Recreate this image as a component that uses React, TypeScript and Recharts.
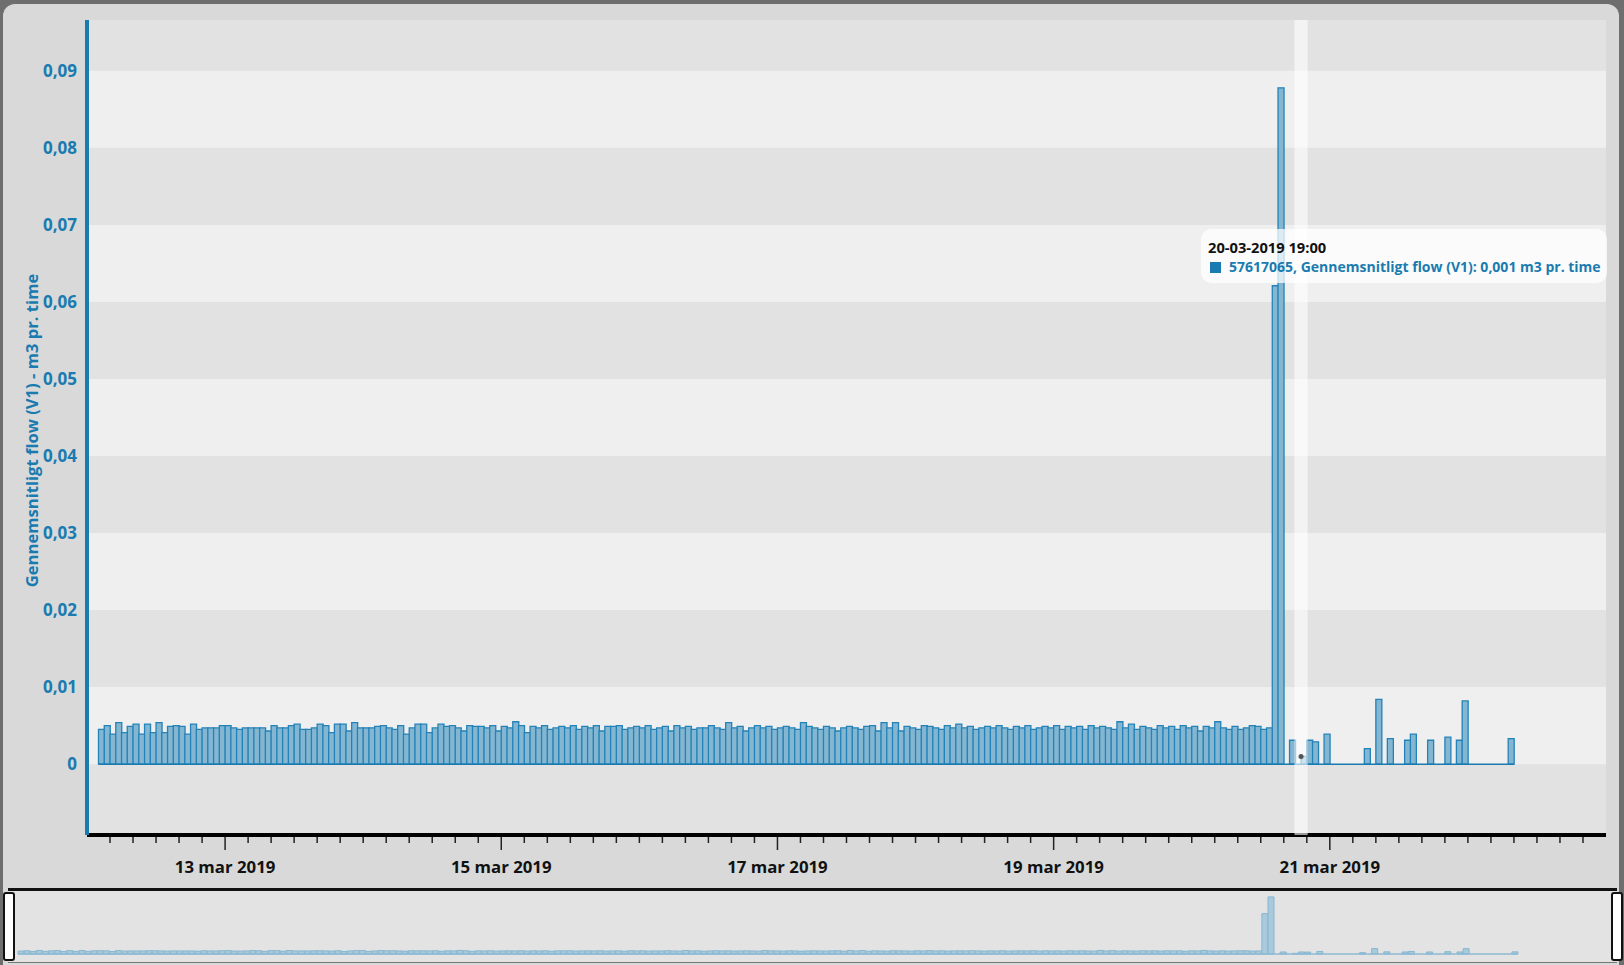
import React from "react";
import { Bar, BarChart, ReferenceArea, ReferenceDot, ReferenceLine, XAxis, YAxis } from "recharts";

// hourly values, first bar = 12 mar 2019 02:00 (hour 2 counted from 12 mar 00:00)
const startHour = 2;
const flowValues: number[] = [
  0.0045, 0.0050, 0.0039, 0.0054, 0.0041, 0.0049, 0.0052, 0.0039, 0.0052, 0.0041,
  0.0054, 0.0041, 0.0049, 0.0050, 0.0049, 0.0039, 0.0052, 0.0045, 0.0047, 0.0047,
  0.0047, 0.0050, 0.0050, 0.0047, 0.0045, 0.0047, 0.0047, 0.0047, 0.0047, 0.0043,
  0.0050, 0.0047, 0.0047, 0.0050, 0.0052, 0.0045, 0.0045, 0.0047, 0.0052, 0.0050,
  0.0041, 0.0052, 0.0052, 0.0043, 0.0054, 0.0047, 0.0047, 0.0047, 0.0049, 0.0050,
  0.0047, 0.0045, 0.0050, 0.0039, 0.0047, 0.0052, 0.0052, 0.0041, 0.0047, 0.0052,
  0.0049, 0.0050, 0.0047, 0.0043, 0.0050, 0.0049, 0.0049,
  0.0047, 0.0050, 0.0043, 0.0049, 0.0047, 0.0055, 0.0050, 0.0041, 0.0049, 0.0047,
  0.0050, 0.0045, 0.0047, 0.0049, 0.0047, 0.0050, 0.0045, 0.0049, 0.0047, 0.0050,
  0.0043, 0.0049, 0.0049, 0.0050, 0.0045, 0.0047, 0.0049, 0.0047, 0.0050, 0.0045,
  0.0047, 0.0049, 0.0043, 0.0050, 0.0047, 0.0049, 0.0045, 0.0047, 0.0047, 0.0050,
  0.0047, 0.0045, 0.0054, 0.0047, 0.0049, 0.0043, 0.0047, 0.0050, 0.0047, 0.0049,
  0.0045, 0.0047, 0.0049, 0.0047, 0.0045, 0.0054, 0.0049, 0.0047, 0.0045, 0.0049,
  0.0047, 0.0043, 0.0047, 0.0049, 0.0047, 0.0045, 0.0049, 0.0050, 0.0043, 0.0054,
  0.0047, 0.0054, 0.0043, 0.0049, 0.0047, 0.0045, 0.0050, 0.0049, 0.0047, 0.0045,
  0.0050, 0.0047, 0.0052, 0.0047, 0.0049, 0.0045, 0.0047, 0.0049, 0.0047, 0.0050,
  0.0047, 0.0045, 0.0049, 0.0047, 0.0050, 0.0045, 0.0047, 0.0049, 0.0047, 0.0050,
  0.0045, 0.0049, 0.0047, 0.0049, 0.0045, 0.0050, 0.0047, 0.0049, 0.0047, 0.0045,
  0.0055, 0.0047, 0.0052, 0.0045, 0.0049, 0.0047, 0.0045, 0.0050, 0.0047, 0.0049,
  0.0045, 0.0050, 0.0047, 0.0049, 0.0043, 0.0049, 0.0047, 0.0055, 0.0047, 0.0045,
  0.0049, 0.0045, 0.0047, 0.0050, 0.0049, 0.0045, 0.0047,
  // 20 mar 14:00 ->
  0.0621, 0.0878, 0, 0.0031, 0, 0.0010, 0.0031, 0.0029, 0, 0.0039,
  // 21 mar
  0, 0, 0, 0, 0, 0, 0.0020, 0, 0.0084, 0,
  0.0033, 0, 0, 0.0031, 0.0039, 0, 0, 0.0031, 0, 0,
  0.0035, 0, 0.0031, 0.0082,
  // 22 mar
  0, 0, 0, 0, 0, 0, 0, 0.0033,
];

const yTicks = [0, 0.01, 0.02, 0.03, 0.04, 0.05, 0.06, 0.07, 0.08, 0.09];
const lightBands = [[0, 0.01], [0.02, 0.03], [0.04, 0.05], [0.06, 0.07], [0.08, 0.09]];
const majorTickHours = [24, 72, 120, 168, 216];
const majorTickLabels = ["13 mar 2019", "15 mar 2019", "17 mar 2019", "19 mar 2019", "21 mar 2019"];
const xTicks = Array.from({ length: 65 }, (_, i) => 4 + i * 4);

const hoverHour = 211; // 20-03-2019 19:00
const hoverLabel = "20-03-2019 19:00";
const seriesName = "57617065, Gennemsnitligt flow (V1)";
const unit = "m3 pr. time";

const hours = flowValues.map((_, i) => startHour + i);
const data = flowValues.map((v, i) => ({ t: hours[i] + 0.5, flow: v }));
const hoverValue = flowValues[hoverHour - startHour];
const lastHour = hours[hours.length - 1] + 1;

const BLUE = "#1a7bb0";
const FONT = "'Open Sans', sans-serif";
const Y_MIN = -0.0092;
const Y_MAX = 0.0966;

const fmt = (v: number) => (v === 0 ? "0" : v.toFixed(2).replace(".", ","));

const XTick = (props: any) => {
  const { x, y, payload } = props;
  const idx = majorTickHours.indexOf(payload.value);
  const major = idx >= 0;
  return (
    <g>
      <line x1={x} x2={x} y1={y + 2} y2={y + (major ? 15 : 8)} stroke="#222" strokeWidth={1.5} />
      {major && (
        <text x={x} y={y + 38} textAnchor="middle" fontFamily={FONT} fontWeight={700} fontSize={16.8} fill="#111">
          {majorTickLabels[idx]}
        </text>
      )}
    </g>
  );
};

const YTitle = (props: any) => {
  const vb = props.viewBox || { x: 0, y: 20, width: 87, height: 815 };
  const cx = vb.x + 31;
  const cy = vb.y + vb.height / 2 + 3;
  return (
    <text
      x={cx}
      y={cy}
      transform={`rotate(-90 ${cx} ${cy})`}
      textAnchor="middle"
      dominantBaseline="central"
      fontFamily={FONT}
      fontWeight={700}
      fontSize={16.6}
      fill={BLUE}
    >
      Gennemsnitligt flow (V1) - m3 pr. time
    </text>
  );
};

export default function App() {
  return (
    <div style={{ position: "absolute", left: 0, top: 0, width: 1624, height: 965, background: "#6e6e6e", overflow: "hidden" }}>
      <div style={{ position: "absolute", left: 3, top: 4, width: 1616, height: 980, background: "#d9d9d9", borderRadius: 12 }} />

      <div style={{ position: "absolute", left: 0, top: 0 }}>
        <BarChart width={1624} height={880} data={data} margin={{ top: 20, right: 18, left: 0, bottom: 0 }} barCategoryGap={0}>
          <XAxis
            type="number"
            dataKey="t"
            domain={[0, 264]}
            ticks={xTicks}
            interval={0}
            tick={<XTick />}
            tickSize={0}
            tickMargin={0}
            tickLine={false}
            axisLine={{ stroke: "#000", strokeWidth: 4 }}
            height={45}
          />
          <YAxis
            type="number"
            domain={[Y_MIN, Y_MAX]}
            allowDataOverflow
            ticks={yTicks}
            tickFormatter={fmt}
            width={87}
            tickSize={0}
            tickMargin={10}
            tickLine={false}
            axisLine={{ stroke: BLUE, strokeWidth: 4 }}
            tick={{ fill: BLUE, fontFamily: FONT, fontWeight: 700, fontSize: 17 }}
            label={<YTitle />}
          />
          <ReferenceArea x1={0} x2={264} y1={Y_MIN} y2={Y_MAX} fill="#e3e2e3" fillOpacity={1} stroke="none" />
          {lightBands.map(([a, b]) => (
            <ReferenceArea key={a} x1={0} x2={264} y1={a} y2={b} fill="#f0eff0" fillOpacity={1} stroke="none" />
          ))}
          <ReferenceLine
            segment={[{ x: hours[0], y: 0 }, { x: lastHour, y: 0 }]}
            stroke={BLUE}
            strokeWidth={1.5}
          />
          <Bar dataKey="flow" fill="#84b6d1" stroke="#2383b8" strokeWidth={1.3} isAnimationActive={false} />
          <ReferenceArea
            x1={hoverHour - 1.15}
            x2={hoverHour + 1.15}
            y1={Y_MIN}
            y2={Y_MAX}
            fill="#ffffff"
            fillOpacity={0.6}
            stroke="none"
            {...({ zIndex: 900 } as any)}
          />
          <ReferenceDot x={hoverHour} y={hoverValue} r={2.5} fill="#555" stroke="none" {...({ zIndex: 950 } as any)} />
        </BarChart>
      </div>

      {/* tooltip */}
      <div
        style={{
          position: "absolute",
          left: 1201,
          top: 229,
          width: 406,
          height: 54,
          background: "rgba(255,255,255,0.72)",
          borderRadius: 10,
          fontFamily: FONT,
          fontWeight: 700,
          fontSize: 14,
        }}
      >
        <div style={{ position: "absolute", left: 7, top: 8, color: "#111", whiteSpace: "nowrap", fontSize: 14.7 }}>{hoverLabel}</div>
        <div style={{ position: "absolute", left: 9, top: 33, width: 11, height: 11, background: BLUE }} />
        <div style={{ position: "absolute", left: 28, top: 28, color: BLUE, whiteSpace: "nowrap" }}>
          {`${seriesName}: ${hoverValue.toFixed(3).replace(".", ",")} ${unit}`}
        </div>
      </div>

      {/* navigator */}
      <div
        style={{
          position: "absolute",
          left: 8,
          top: 888,
          width: 1609,
          height: 71,
          background: "#e3e3e3",
          borderTop: "3px solid #111",
          borderBottom: "1px solid #777",
        }}
      />
      <div style={{ position: "absolute", left: 0, top: 880 }}>
        <BarChart width={1624} height={85} data={data} margin={{ top: 9, right: 106, left: 18, bottom: 11 }} barCategoryGap={0}>
          <XAxis type="number" dataKey="t" domain={[startHour, lastHour]} hide />
          <YAxis type="number" domain={[0, 0.1]} hide />
          <ReferenceLine
            segment={[{ x: hours[0], y: 0 }, { x: lastHour, y: 0 }]}
            stroke="#8dbad2"
            strokeWidth={1.5}
          />
          <Bar dataKey="flow" fill="#a9cadc" stroke="#86b6d0" strokeWidth={1} isAnimationActive={false} />
        </BarChart>
      </div>
      <div style={{ position: "absolute", left: 3, top: 892, width: 8, height: 65, background: "#fff", border: "2px solid #111", borderRadius: 3 }} />
      <div style={{ position: "absolute", left: 1611, top: 892, width: 8, height: 65, background: "#fff", border: "2px solid #111", borderRadius: 3 }} />
    </div>
  );
}
